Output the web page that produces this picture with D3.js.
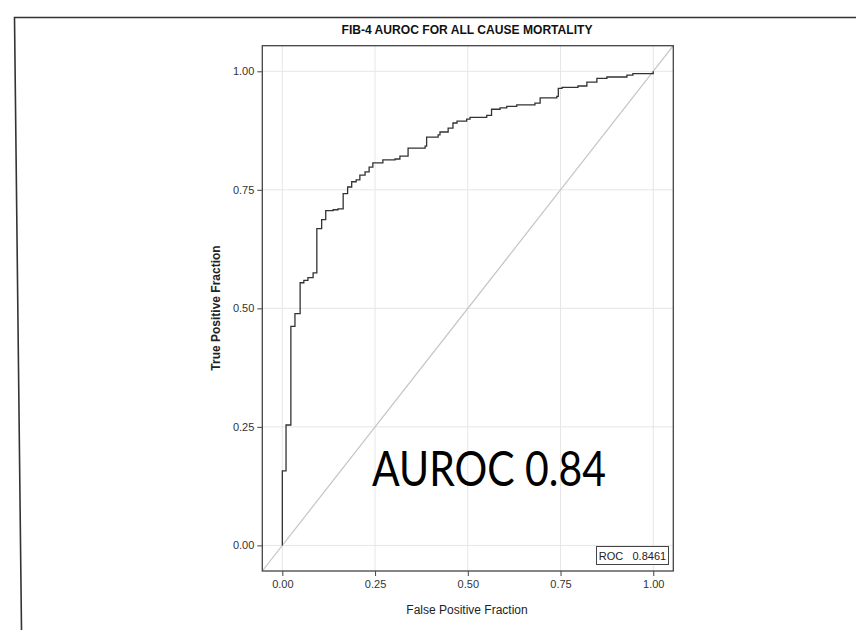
<!DOCTYPE html>
<html>
<head>
<meta charset="utf-8">
<script src="https://cdn.jsdelivr.net/npm/d3@7"></script>
<style>
  body { margin: 0; background: #fff; }
  svg { display: block; }
</style>
</head>
<body>
<div id="chart"></div>
<script>
// ROC step corners (false positive fraction, true positive fraction)
const fpr = [0, 0, 0.010, 0.023, 0.034, 0.048, 0.058, 0.069, 0.083, 0.093, 0.106, 0.117, 0.137, 0.150,
  0.164, 0.176, 0.187, 0.199, 0.209, 0.223, 0.234, 0.244, 0.271, 0.304, 0.317, 0.339, 0.385, 0.389,
  0.420, 0.425, 0.447, 0.460, 0.471, 0.497, 0.506, 0.551, 0.564, 0.587, 0.605, 0.632, 0.681, 0.695,
  0.740, 0.744, 0.754, 0.797, 0.821, 0.848, 0.875, 0.929, 0.945, 1.0]
const tpr = [0, 0.157, 0.254, 0.462, 0.489, 0.554, 0.559, 0.565, 0.575, 0.668, 0.687, 0.706, 0.708, 0.710,
  0.742, 0.756, 0.767, 0.771, 0.781, 0.788, 0.798, 0.807, 0.813, 0.815, 0.821, 0.838, 0.842, 0.861,
  0.866, 0.872, 0.880, 0.891, 0.895, 0.899, 0.903, 0.907, 0.920, 0.923, 0.926, 0.929, 0.933, 0.944,
  0.947, 0.964, 0.966, 0.969, 0.977, 0.985, 0.988, 0.992, 0.995, 1.0]
const ticks = [0, 0.25, 0.5, 0.75, 1]
const title = "FIB-4 AUROC FOR ALL CAUSE MORTALITY"
const xTitle = "False Positive Fraction"
const yTitle = "True Positive Fraction"
const rocLabel = "ROC   0.8461"
const bigLabel = "AUROC 0.84"

const W = 856, H = 630
const frame = {left: 262.3, right: 673.3, top: 45.7, bottom: 571}
const lo = -0.054, hi = 1.054
const font = "'Liberation Sans', Arial, sans-serif"

var svg = d3.select("#chart").append("svg")
  .attr("width", W)
  .attr("height", H)

// slide border (top and left only)
svg.append("path")
  .attr("d", `M856,17.5 L14.5,17.5 L21.5,${H}`)
  .attr("fill", "none")
  .attr("stroke", "#333")
  .attr("stroke-width", 1.6)

let x = d3.scaleLinear().domain([lo, hi]).range([frame.left, frame.right])
let y = d3.scaleLinear().domain([lo, hi]).range([frame.bottom, frame.top])

// grid
let grid = svg.append("g").attr("stroke", "#e6e6e6").attr("stroke-width", 1)
ticks.forEach(t => {
  grid.append("line").attr("x1", x(t)).attr("x2", x(t)).attr("y1", frame.top).attr("y2", frame.bottom)
  grid.append("line").attr("y1", y(t)).attr("y2", y(t)).attr("x1", frame.left).attr("x2", frame.right)
})

// chance line
svg.append("line")
  .attr("x1", x(lo)).attr("y1", y(lo))
  .attr("x2", x(hi)).attr("y2", y(hi))
  .attr("stroke", "#c4c4c4")
  .attr("stroke-width", 1.2)

// roc curve
let pts = fpr.map((v, i) => [v, tpr[i]])
svg.append("path")
  .datum(pts)
  .attr("d", d3.line().x(d => x(d[0])).y(d => y(d[1])).curve(d3.curveStepAfter))
  .attr("fill", "none")
  .attr("stroke", "#333")
  .attr("stroke-width", 1.3)

// axes
let xAxis = svg.append("g")
  .attr("transform", `translate(0,${frame.bottom})`)
  .call(d3.axisBottom(x).tickValues(ticks).tickFormat(d3.format(".2f")).tickSize(5).tickSizeOuter(0))
let yAxis = svg.append("g")
  .attr("transform", `translate(${frame.left},0)`)
  .call(d3.axisLeft(y).tickValues(ticks).tickFormat(d3.format(".2f")).tickSize(5).tickSizeOuter(0))
;[xAxis, yAxis].forEach(g => {
  g.select(".domain").remove()
  g.selectAll("line").attr("stroke", "#444")
  g.selectAll("text").attr("fill", "#333").style("font-family", font).style("font-size", "11px")
})
xAxis.selectAll("text").attr("dy", "0.71em").attr("y", 9)
yAxis.selectAll("text").attr("x", -8)

// frame
svg.append("rect")
  .attr("x", frame.left).attr("y", frame.top)
  .attr("width", frame.right - frame.left).attr("height", frame.bottom - frame.top)
  .attr("fill", "none")
  .attr("stroke", "#444")
  .attr("stroke-width", 1.3)

// titles
svg.append("text")
  .attr("x", 467).attr("y", 34)
  .attr("text-anchor", "middle")
  .attr("textLength", 251).attr("lengthAdjust", "spacingAndGlyphs")
  .style("font-family", font).style("font-size", "13px").style("font-weight", "bold")
  .attr("fill", "#111")
  .text(title)

svg.append("text")
  .attr("x", 467).attr("y", 614)
  .attr("text-anchor", "middle")
  .style("font-family", font).style("font-size", "12px")
  .attr("fill", "#222")
  .text(xTitle)

svg.append("text")
  .attr("transform", "translate(220,308) rotate(-90)")
  .attr("text-anchor", "middle")
  .style("font-family", font).style("font-size", "12px").style("font-weight", "bold")
  .attr("fill", "#222")
  .text(yTitle)

// inset legend
let leg = svg.append("g")
leg.append("rect")
  .attr("x", 596.5).attr("y", 546.5).attr("width", 72).attr("height", 18)
  .attr("fill", "#fff").attr("stroke", "#444").attr("stroke-width", 1)
leg.append("text")
  .attr("x", 632.5).attr("y", 559.5)
  .attr("text-anchor", "middle")
  .attr("xml:space", "preserve")
  .style("white-space", "pre")
  .style("font-family", font).style("font-size", "11px")
  .attr("fill", "#222")
  .text(rocLabel)

// big annotation
svg.append("text")
  .attr("x", 372).attr("y", 486)
  .attr("textLength", 234).attr("lengthAdjust", "spacingAndGlyphs")
  .style("font-family", "Lato, 'Open Sans', sans-serif").style("font-size", "48px")
  .attr("fill", "#000")
  .text(bigLabel)
</script>
</body>
</html>
